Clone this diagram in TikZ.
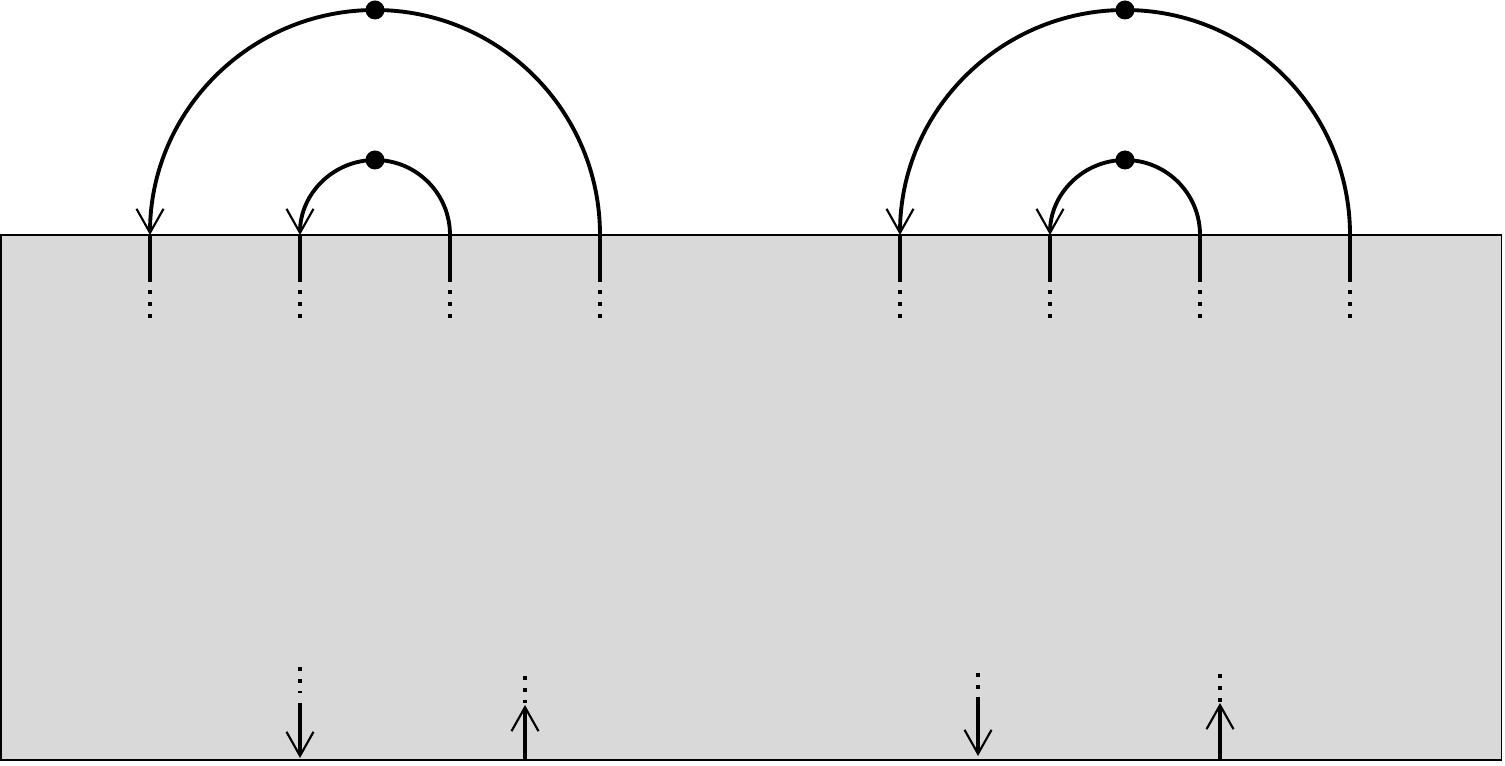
\documentclass[tikz,border=0pt]{standalone}
\usepackage{tikz}
\usetikzlibrary{arrows.meta}
\tikzset{
  strand/.style={line width=1.1pt},
  dotstrand/.style={line width=1.1pt,dash pattern=on 0.04cm off 0.08cm},
  barb/.style={-{Straight Barb[length=0.24cm,width=0.27cm,line width=0pt 0.55]}},
  knot/.style={circle,fill,inner sep=0pt,minimum size=0.19cm},
}
\begin{document}
\begin{tikzpicture}
\useasboundingbox (0,0) rectangle (15.05,7.65);
\draw[fill=gray!30,line width=0.3pt](0.01,0.05) rectangle (15.01,5.30);
% strands at the top edge
\foreach \x/\n in {1.5/a1,3/a2,4.5/a3,6/a4,9/b1,10.5/b2,12/b3,13.5/b4}{
  \coordinate (\n) at (\x,5.30);
  \draw[strand](\n)--++(0,-0.47);
  \draw[dotstrand]([yshift=-0.55cm]\n)--++(0,-0.28);
}
% caps
\draw[strand,barb](a4) arc[start angle=0,end angle=180,radius=2.25];
\draw[strand,barb](a3) arc[start angle=0,end angle=180,radius=0.75];
\draw[strand,barb](b4) arc[start angle=0,end angle=180,radius=2.25];
\draw[strand,barb](b3) arc[start angle=0,end angle=180,radius=0.75];
\node[knot](ka) at (3.75,7.55){};
\node[knot](kb) at (3.75,6.05){};
\node[knot](kc) at (11.25,7.55){};
\node[knot](kd) at (11.25,6.05){};
% strands at the bottom edge
\coordinate (c1) at (3,0.07);
\coordinate (c2) at (5.25,0.05);
\coordinate (c3) at (9.78,0.09);
\coordinate (c4) at (12.2,0.05);
\draw[dotstrand](3,0.98)--(3,0.72);
\draw[strand,barb](3,0.62)--(c1);
\draw[strand,barb](c2)--(5.25,0.60);
\draw[dotstrand](5.25,0.89)--(5.25,0.62);
\draw[dotstrand](9.78,0.92)--(9.78,0.68);
\draw[strand,barb](9.78,0.68)--(c3);
\draw[strand,barb](c4)--(12.2,0.62);
\draw[dotstrand](12.2,0.91)--(12.2,0.63);
\end{tikzpicture}
\end{document}
